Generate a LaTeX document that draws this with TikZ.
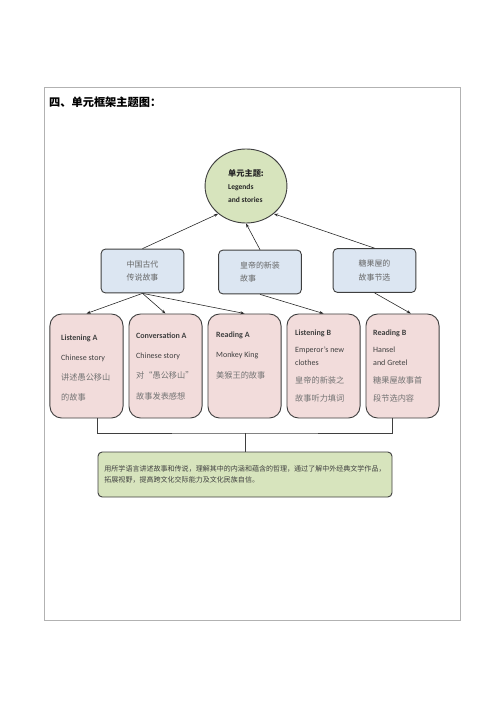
\documentclass[tikz,border=0pt]{standalone}
\usepackage{fontspec}
\setmainfont{Carlito}
\newfontfamily\cjk{Noto Sans CJK SC}
\usetikzlibrary{positioning,arrows.meta,shapes.geometric}
\definecolor{themegreen}{HTML}{D7E4BD}
\definecolor{topicblue}{HTML}{DCE6F2}
\definecolor{lessonpink}{HTML}{F2DCDB}
\definecolor{edgegray}{HTML}{3F3F3F}
\newcommand{\zhline}[1]{{\cjk\fontsize{9.8}{12}\selectfont\color{black!55}#1}}

\begin{document}
\begin{tikzpicture}[
  x=0.042cm, y=-0.042cm,
  node distance=2mm and 2.1mm,
  theme/.style={ellipse, draw=edgegray, line width=1.1pt, fill=themegreen, minimum width=3.44cm, minimum height=3.11cm, inner sep=0pt, align=left, text=black!85, font=\fontsize{9}{16}\selectfont\bfseries},
  topic/.style={draw=edgegray, line width=1.1pt, rounded corners=5pt, fill=topicblue, minimum width=3.47cm, minimum height=1.84cm, text=black!60, font=\cjk\fontsize{9.5}{16.5}\selectfont},
  lesson/.style={draw=edgegray, line width=1.1pt, rounded corners=14pt, fill=lessonpink, minimum width=3.07cm, minimum height=4.37cm},
  lessontxt/.style={anchor=north west, inner sep=0pt, align=left, text=black!75, font=\fontsize{9.6}{12}\selectfont},
  goal/.style={draw=edgegray, line width=1.1pt, rounded corners=5pt, fill=themegreen, minimum width=12.35cm, minimum height=1.89cm, align=left, text=black!75, font=\cjk\fontsize{8.4}{13}\selectfont},
  arr/.style={-{Stealth[length=5pt,width=3.5pt]}, line width=0.7pt, draw=black!85}
]
\useasboundingbox (0,0) rectangle (500,707);
\draw[black!30, line width=1pt] (44,87) rectangle (460,620);
\node[anchor=west, inner sep=0pt, font=\cjk\bfseries\fontsize{13.4}{15}\selectfont] (title) at (49,102) {四、单元框架主题图：};

\node[theme] (theme) at (246,186) {{\cjk\fontsize{9.8}{16}\selectfont 单元主题:}\\Legends\\and stories};

\node[topic, align=center] (legend) at (142.5,271) {中国古代\\传说故事};
\node[topic, align=left] (emperor) at (260,272) {皇帝的新装\\故事};
\node[topic, align=center] (candy) at (374.5,270.5) {糖果屋的\\故事节选};

\node[lesson] (lsnA) at (86.5,366) {};
\node[lesson, right=of lsnA] (convA) {};
\node[lesson, right=of convA] (readA) {};
\node[lesson, right=of readA] (lsnB) {};
\node[lesson, right=of lsnB] (readB) {};

\node[lessontxt] (lsnAtxt) at (61,334.5) {\textbf{Listening A}\\[11.8pt]Chinese story\\[11.8pt]\zhline{讲述愚公移山}\\[11.8pt]\zhline{的故事}};
\node[lessontxt] (convAtxt) at (136,332.5) {\textbf{Conversation A}\\[11.8pt]Chinese story\\[12.5pt]\zhline{对“愚公移山”}\\[13pt]\zhline{故事发表感想}};
\node[lessontxt] (readAtxt) at (216,331.5) {\textbf{Reading A}\\[11.8pt]Monkey King\\[13pt]\zhline{美猴王的故事}};
\node[lessontxt] (lsnBtxt) at (295,329.5) {\textbf{Listening B}\\[8.2pt]Emperor’s new\\[3.5pt]clothes\\[9.4pt]\zhline{皇帝的新装之}\\[10.6pt]\zhline{故事听力填词}};
\node[lessontxt] (readBtxt) at (373,329.5) {\textbf{Reading B}\\[8.2pt]Hansel\\[3.5pt]and Gretel\\[9.4pt]\zhline{糖果屋故事首}\\[10.6pt]\zhline{段节选内容}};

\node[goal] (goal) at (245,474.5) {用所学语言讲述故事和传说，理解其中的内涵和蕴含的哲理，通过了解中外经典文学作品，\\拓展视野，提高跨文化交际能力及文化民族自信。};

\draw[arr] (legend.north) -- (theme.-135);
\draw[arr] (emperor.north) -- (theme.south);
\draw[arr] (candy.north) -- (theme.-45);
\draw[arr] (legend.south) -- (lsnA.north);
\draw[arr] (legend.south) -- (convA.north);
\draw[arr] (legend.south) -- (readA.north);
\draw[arr] (emperor.south) -- (lsnB.north);
\draw[arr] (candy.south) -- ([xshift=10pt]readB.north);

\coordinate (brk) at (goal.north |- 0,433);
\draw[line width=0.9pt, edgegray] (goal.west |- lsnA.south) |- (brk) -| (goal.east |- readB.south);
\draw[line width=0.9pt, edgegray] (brk) -- (goal.north);
\end{tikzpicture}
\end{document}
